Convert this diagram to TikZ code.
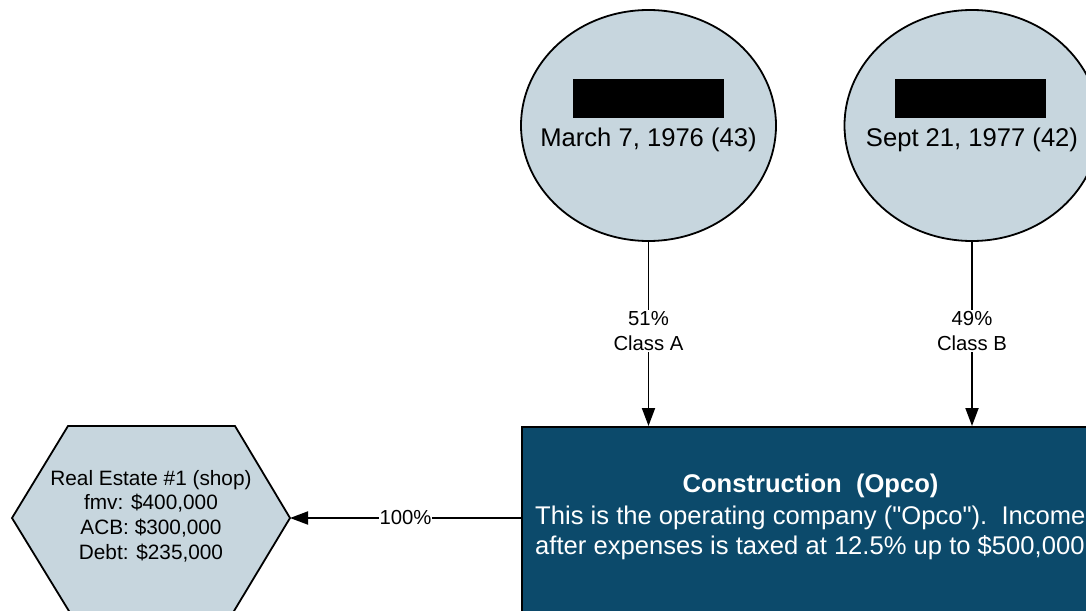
\documentclass[tikz,border=0pt]{standalone}
\usepackage{fontspec}
\setmainfont{Liberation Sans}
\usetikzlibrary{shapes.geometric,arrows.meta}
\definecolor{lightfill}{RGB}{199,214,222}
\definecolor{darkfill}{RGB}{12,74,107}
\tikzset{
  person/.style={ellipse,draw=black,line width=1.8pt,fill=lightfill,minimum width=255pt,minimum height=231pt,inner sep=0pt},
  redact/.style={fill=black,draw=none,minimum width=151pt,minimum height=39pt,inner sep=0pt},
  bigtext/.style={font=\fontsize{25.6}{31}\selectfont,inner sep=0pt},
  smalltext/.style={font=\fontsize{20.8}{24.7}\selectfont,align=center},
  conn/.style={line width=1.9pt,-{Triangle[length=18pt,width=13pt]}},
  lbl/.style={fill=white,font=\fontsize{20.3}{25}\selectfont,align=center,inner sep=1pt}
}
\begin{document}
\begin{tikzpicture}[x=1pt,y=-1pt]
\useasboundingbox (0,0) rectangle (1086,610);
\clip (0,0) rectangle (1086,610);
% shareholders
\node[person] (p1) at (648.5,125.5) {};
\node[redact] (r1) at (648.5,98.5) {};
\node[bigtext] (t1) at (648.5,139.5) {March 7, 1976 (43)};
\node[person] (p2) at (972,125.5) {};
\node[redact] (r2) at (970.5,98.5) {};
\node[bigtext] (t2) at (972,139.5) {Sept 21, 1977 (42)};
% Opco
\node[draw=black,line width=1.8pt,fill=darkfill,anchor=north west,minimum width=620pt,minimum height=260pt,inner sep=0pt] (opco) at (521,426) {};
\node[bigtext,text=white,font=\fontsize{25.6}{31}\selectfont\bfseries] (ot) at (810.5,486) {Construction\ \ (Opco)};
\node[bigtext,text=white,anchor=west] (o1) at (535,518) {This is the operating company (\textquotedbl Opco\textquotedbl).\ \ Income};
\node[bigtext,text=white,anchor=west] (o2) at (535,548) {after expenses is taxed at 12.5\% up to \$500,000};
% Real estate hexagon
\coordinate (hL) at (12,518);
\coordinate (hR) at (290,518);
\draw[line width=1.8pt,fill=lightfill] (hL) -- (68,426) -- (235,426) -- (hR) -- (231,616) -- (72,616) -- cycle;
\node[smalltext] (re) at (151,516) {Real Estate \#1 (shop)\\fmv: \$400,000\\ACB: \$300,000\\Debt: \$235,000};
% connectors
\draw[conn] (p1.south) -- node[lbl,yshift=3pt] (l1) {51\%\\Class A} (p1.south |- opco.north);
\draw[conn] (p2.south) -- node[lbl,yshift=3pt] (l2) {49\%\\Class B} (p2.south |- opco.north);
\draw[conn] (opco.west |- hR) -- node[lbl,pos=0.5] (l3) {100\%} (hR);
\end{tikzpicture}
\end{document}
